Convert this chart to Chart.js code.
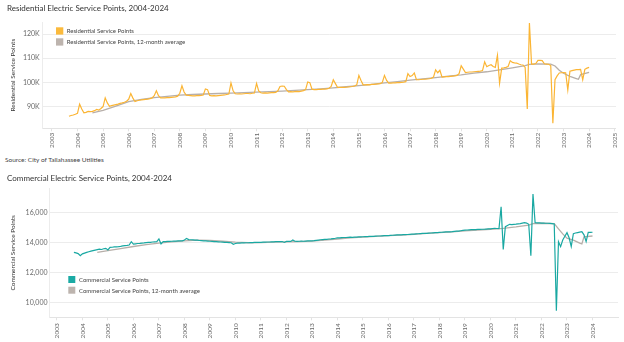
<!DOCTYPE html>
<html>
<head>
<meta charset="utf-8">
<script src="https://cdn.jsdelivr.net/npm/chart.js@4.4.1/dist/chart.umd.min.js"></script>
<style>
  body { margin: 0; background: #fff; width: 624px; height: 342px; position: relative; overflow: hidden; }
  canvas { position: absolute; left: 0; }
  #source { position: absolute; left: 5px; top: 156px; font: 6.5px Lato, sans-serif; color: #444; }
</style>
</head>
<body>
<canvas id="resChart" width="624" height="150" style="top:0"></canvas>
<div id="source">Source: City of Tallahassee Utilities</div>
<canvas id="comChart" width="624" height="174" style="top:168px"></canvas>
<script>
// monthly values, first month = Sep 2003
var startYear = 2003, startMonth = 8;

// Residential service points (thousands)
var resMonthly = [
  86.0, 86.3, 86.5, 86.8,
  87.2, 91.0, 89.0, 87.4, 87.6, 88.0, 87.9, 88.0, 88.3, 88.8, 88.5, 89.2,
  90.0, 93.6, 91.5, 90.1, 90.4, 90.6, 90.8, 91.0, 91.3, 91.5, 91.8, 92.2,
  93.0, 95.4, 93.5, 92.1, 92.4, 92.6, 92.8, 92.9, 93.0, 93.1, 93.3, 93.6,
  94.5, 96.5, 94.5, 93.6, 93.6, 93.6, 93.7, 93.7, 93.8, 93.9, 94.0, 94.3,
  95.5, 98.6, 96.0, 94.7, 94.6, 94.5, 94.4, 94.4, 94.5, 94.5, 94.6, 94.8,
  97.3, 97.0, 94.6, 94.4, 94.5, 94.4, 94.5, 94.6, 94.7, 94.8, 95.0, 95.2,
  99.8, 96.5, 95.3, 95.2, 95.3, 95.2, 95.3, 95.4, 95.4, 95.3, 95.5, 95.6,
  99.6, 96.5, 95.7, 95.6, 95.7, 95.6, 95.7, 95.8, 95.8, 95.9, 96.5, 98.3,
  98.5, 98.4, 97.0, 96.1, 96.2, 96.1, 96.2, 96.3, 96.2, 96.4, 96.6, 97.0,
  100.2, 99.9, 97.2, 97.0, 97.0, 97.1, 97.1, 97.2, 97.2, 97.3, 97.6, 98.3,
  101.1, 99.5, 97.9, 97.9, 98.0, 97.9, 98.0, 98.1, 98.2, 98.3, 98.5, 99.0,
  102.9, 100.8, 99.0, 99.0, 99.1, 99.0, 99.2, 99.2, 99.3, 99.4, 99.5, 100.0,
  102.9, 100.8, 99.7, 99.7, 99.8, 99.8, 99.9, 99.9, 100.0, 100.1, 100.3, 103.6,
  102.4, 102.8, 103.9, 101.1, 101.1, 101.2, 101.3, 101.3, 101.4, 101.5, 101.7, 102.2,
  105.2, 104.0, 105.0, 102.2, 102.3, 102.4, 102.4, 102.5, 102.6, 102.7, 102.9, 103.6,
  106.9, 105.5, 104.1, 104.2, 104.3, 104.3, 104.4, 104.5, 104.6, 104.7, 104.9, 108.5,
  106.5, 107.0, 107.3, 106.6, 106.2, 111.2, 99.7, 105.9, 106.0, 106.2, 106.6, 109.0,
  108.3, 108.1, 108.0, 107.6, 107.3, 107.2, 106.2, 89.0, 124.6, 107.6, 107.6, 107.8,
  109.1, 109.1, 109.0, 107.7, 107.6, 107.5, 107.0, 83.1, 101.1, 102.7, 103.9, 104.0,
  104.1, 104.0, 96.9, 104.6, 104.9, 105.1, 105.3, 105.3, 105.4, 101.1, 105.4, 105.9,
  106.2
];

// Commercial service points
var comMonthly = [
  13330, 13290, 13250, 13110,
  13230, 13280, 13330, 13370, 13410, 13450, 13480, 13510, 13540, 13520, 13570, 13600,
  13490, 13660, 13670, 13690, 13700, 13710, 13730, 13760, 13780, 13790, 13820, 14040,
  13880, 13900, 13920, 13930, 13950, 13960, 13980, 14000, 14000, 14020, 14030, 14040,
  14220, 13890, 14040, 14050, 14060, 14060, 14070, 14080, 14080, 14090, 14090, 14100,
  14150, 14260, 14180, 14170, 14160, 14150, 14140, 14120, 14110, 14100, 14090, 14080,
  14070, 14060, 14050, 14040, 14030, 14020, 14010, 14000, 13990, 13980, 13970, 13870,
  13920, 13940, 13950, 13960, 13960, 13970, 13970, 13980, 13980, 13990, 14000, 14000,
  14000, 14010, 14010, 14020, 14020, 14030, 14030, 14040, 14040, 14050, 14050, 13990,
  14060, 14070, 14060, 14150, 14070, 14060, 14070, 14080, 14070, 14080, 14090, 14090,
  14100, 14110, 14130, 14150, 14170, 14180, 14190, 14200, 14220, 14230, 14250, 14270,
  14300, 14290, 14310, 14320, 14320, 14330, 14340, 14330, 14340, 14350, 14360, 14360,
  14370, 14380, 14380, 14390, 14400, 14400, 14410, 14420, 14420, 14430, 14440, 14440,
  14450, 14460, 14470, 14480, 14490, 14490, 14500, 14510, 14510, 14520, 14530, 14540,
  14550, 14560, 14570, 14580, 14590, 14590, 14600, 14610, 14620, 14630, 14640, 14650,
  14660, 14670, 14680, 14690, 14700, 14700, 14710, 14730, 14740, 14750, 14770, 14790,
  14810, 14820, 14830, 14840, 14850, 14850, 14860, 14860, 14870, 14870, 14880, 14890,
  14900, 14920, 14930, 14920, 14910, 16370, 13530, 15040, 15120, 15200, 15180, 15200,
  15210, 15230, 15250, 15280, 15310, 15280, 15200, 13100, 17220, 15300, 15290, 15290,
  15280, 15280, 15270, 15270, 15260, 15250, 15220, 9440, 14040, 13710, 14150, 14400,
  14640, 14300, 13720, 14580, 14620, 14650, 14680, 14710, 14500, 14050, 14660, 14660,
  14670
];

// 12-month averages
var avgDates = [2004.583, 2005, 2005.5, 2006, 2006.5, 2007, 2007.5, 2008, 2008.5, 2009, 2009.5,
  2010, 2010.5, 2011, 2011.5, 2012, 2012.5, 2013, 2013.5, 2014, 2014.5, 2015, 2015.5,
  2016, 2016.5, 2017, 2017.5, 2018, 2018.5, 2019, 2019.5, 2020, 2020.5, 2021, 2021.5,
  2021.667, 2022, 2022.5, 2022.667, 2022.833, 2023, 2023.25, 2023.5, 2023.583, 2023.667, 2024];
var resAvg = [87.4, 88.4, 90.2, 92.0, 93.0, 93.7, 94.2, 94.7, 95.0, 95.2, 95.4,
  95.6, 95.8, 96.0, 96.2, 96.4, 96.7, 97.0, 97.3, 97.7, 98.2, 98.7, 99.2,
  99.8, 100.3, 100.9, 101.5, 102.0, 102.6, 103.1, 103.8, 104.4, 105.2, 106.0, 106.9,
  107.5, 107.7, 107.6, 106.8, 105.0, 103.8, 102.5, 101.6, 101.3, 103.2, 104.1];
var comAvg = [13330, 13440, 13580, 13720, 13850, 13950, 14030, 14090, 14150, 14130, 14070,
  14010, 13970, 13980, 14010, 14030, 14050, 14080, 14140, 14220, 14290, 14340, 14390,
  14440, 14480, 14530, 14590, 14640, 14700, 14760, 14820, 14870, 14930, 15030, 15150,
  15250, 15270, 15250, 14900, 14560, 14280, 14150, 13940, 13890, 14370, 14420];

var resYearTicks = [2003, 2004, 2005, 2006, 2007, 2008, 2009, 2010, 2011, 2012, 2013, 2014,
  2015, 2016, 2017, 2018, 2019, 2020, 2021, 2022, 2023, 2024, 2025];
var comYearTicks = [2003, 2004, 2005, 2006, 2007, 2008, 2009, 2010, 2011, 2012, 2013, 2014,
  2015, 2016, 2017, 2018, 2019, 2020, 2021, 2022, 2023, 2024];
var resTickValues = [90, 100, 110, 120];
var resTickLabels = ['90K', '100K', '110K', '120K'];
var comTickValues = [10000, 12000, 14000, 16000];
var comTickLabels = ['10,000', '12,000', '14,000', '16,000'];

var FONT = 'Lato, "Open Sans", sans-serif';

function monthly(values) {
  return values.map(function(v, i) { return { x: startYear + (startMonth + i) / 12, y: v }; });
}
function dated(dates, values) {
  return values.map(function(v, i) { return { x: dates[i], y: v }; });
}

// small boxed legend drawn inside the plot area
var boxLegend = {
  id: 'boxLegend',
  afterDraw: function(chart, args, opts) {
    var ctx = chart.ctx, a = chart.chartArea;
    ctx.save();
    ctx.font = opts.size + 'px ' + FONT;
    ctx.textBaseline = 'middle';
    chart.data.datasets.forEach(function(ds, i) {
      var x = a.left + opts.x, y = a.top + opts.y + i * opts.step;
      ctx.fillStyle = opts.boxColors[i];
      ctx.fillRect(x, y, opts.box, opts.box);
      ctx.fillStyle = '#444';
      ctx.fillText(ds.label, x + opts.box + opts.gap, y + opts.box / 2 + 0.5);
    });
    ctx.restore();
  }
};

function makeChart(id, cfg) {
  return new Chart(document.getElementById(id), {
    type: 'line',
    data: {
      datasets: [{
        label: cfg.labels[0],
        data: cfg.main,
        borderColor: cfg.color,
        borderWidth: 1.2,
        pointRadius: 0,
        tension: 0
      }, {
        label: cfg.labels[1],
        data: cfg.avg,
        borderColor: '#b7afa9',
        borderWidth: 1.3,
        pointRadius: 0,
        tension: 0
      }]
    },
    plugins: [boxLegend],
    options: {
      responsive: false,
      animation: false,
      layout: { padding: { left: 7, right: cfg.padRight, top: 0, bottom: 0 } },
      plugins: {
        legend: { display: false },
        tooltip: { enabled: false },
        title: {
          display: true,
          text: cfg.title,
          align: 'start',
          color: '#333',
          font: { family: FONT, size: 8, weight: 'normal' },
          padding: cfg.titlePad
        },
        boxLegend: cfg.legend
      },
      scales: {
        x: {
          type: 'linear',
          min: cfg.xMin,
          max: cfg.xMax,
          afterBuildTicks: function(s) { s.ticks = cfg.years.map(function(v) { return { value: v }; }); },
          afterFit: function(s) { s.height = cfg.xHeight; },
          grid: { drawOnChartArea: false, tickLength: 3, color: '#e3e3e3' },
          border: { color: '#e3e3e3' },
          ticks: {
            autoSkip: false, minRotation: 90, maxRotation: 90, padding: cfg.xPad,
            color: '#666', font: { family: FONT, size: 6.5 },
            callback: function(v) { return String(v); }
          }
        },
        y: {
          min: cfg.yMin,
          max: cfg.yMax,
          afterBuildTicks: function(s) { s.ticks = cfg.tickValues.map(function(v) { return { value: v }; }); },
          afterFit: function(s) { s.width = cfg.yWidth; },
          grid: { color: '#ececec', drawTicks: false },
          border: { color: '#ececec' },
          ticks: {
            padding: cfg.yPad, color: '#6a6a6a', font: { family: FONT, size: 7 },
            callback: function(v, i) { return cfg.tickLabels[i]; }
          },
          title: {
            display: true, text: cfg.yTitle, color: '#333',
            font: { family: FONT, size: 6.5 }, padding: { top: 2, bottom: 0 }
          }
        }
      }
    }
  });
}

makeChart('resChart', {
  title: 'Residential Electric Service Points, 2004-2024',
  yTitle: 'Residential Service Points',
  labels: ['Residential Service Points', 'Residential Service Points, 12-month average'],
  main: monthly(resMonthly),
  avg: dated(avgDates, resAvg),
  color: '#fbb534',
  years: resYearTicks,
  tickValues: resTickValues,
  tickLabels: resTickLabels,
  xMin: 2002.64, xMax: 2025.05,
  yMin: 81, yMax: 125,
  padRight: 4,
  titlePad: { top: 3.3, bottom: 9.1 },
  xHeight: 21.7, xPad: 1.5,
  yWidth: 35.7, yPad: 3,
  legend: { x: 13.3, y: 5.3, step: 11, box: 7.3, gap: 3.4, size: 6, boxColors: ['#fbba3c', '#bdb4ae'] }
});

makeChart('comChart', {
  title: 'Commercial Electric Service Points, 2004-2024',
  yTitle: 'Commercial Service Points',
  labels: ['Commercial Service Points', 'Commercial Service Points, 12-month average'],
  main: monthly(comMonthly),
  avg: dated(avgDates, comAvg),
  color: '#19a8a2',
  years: comYearTicks,
  tickValues: comTickValues,
  tickLabels: comTickLabels,
  xMin: 2002.69, xMax: 2025.0,
  yMin: 9000, yMax: 17600,
  padRight: 6,
  titlePad: { top: 5.5, bottom: 5.2 },
  xHeight: 24.7, xPad: 3,
  yWidth: 42, yPad: 1.5,
  legend: { x: 19.3, y: 87.7, step: 10.7, box: 7, gap: 3.7, size: 6, boxColors: ['#1aaaa4', '#bdb4ae'] }
});
</script>
</body>
</html>
